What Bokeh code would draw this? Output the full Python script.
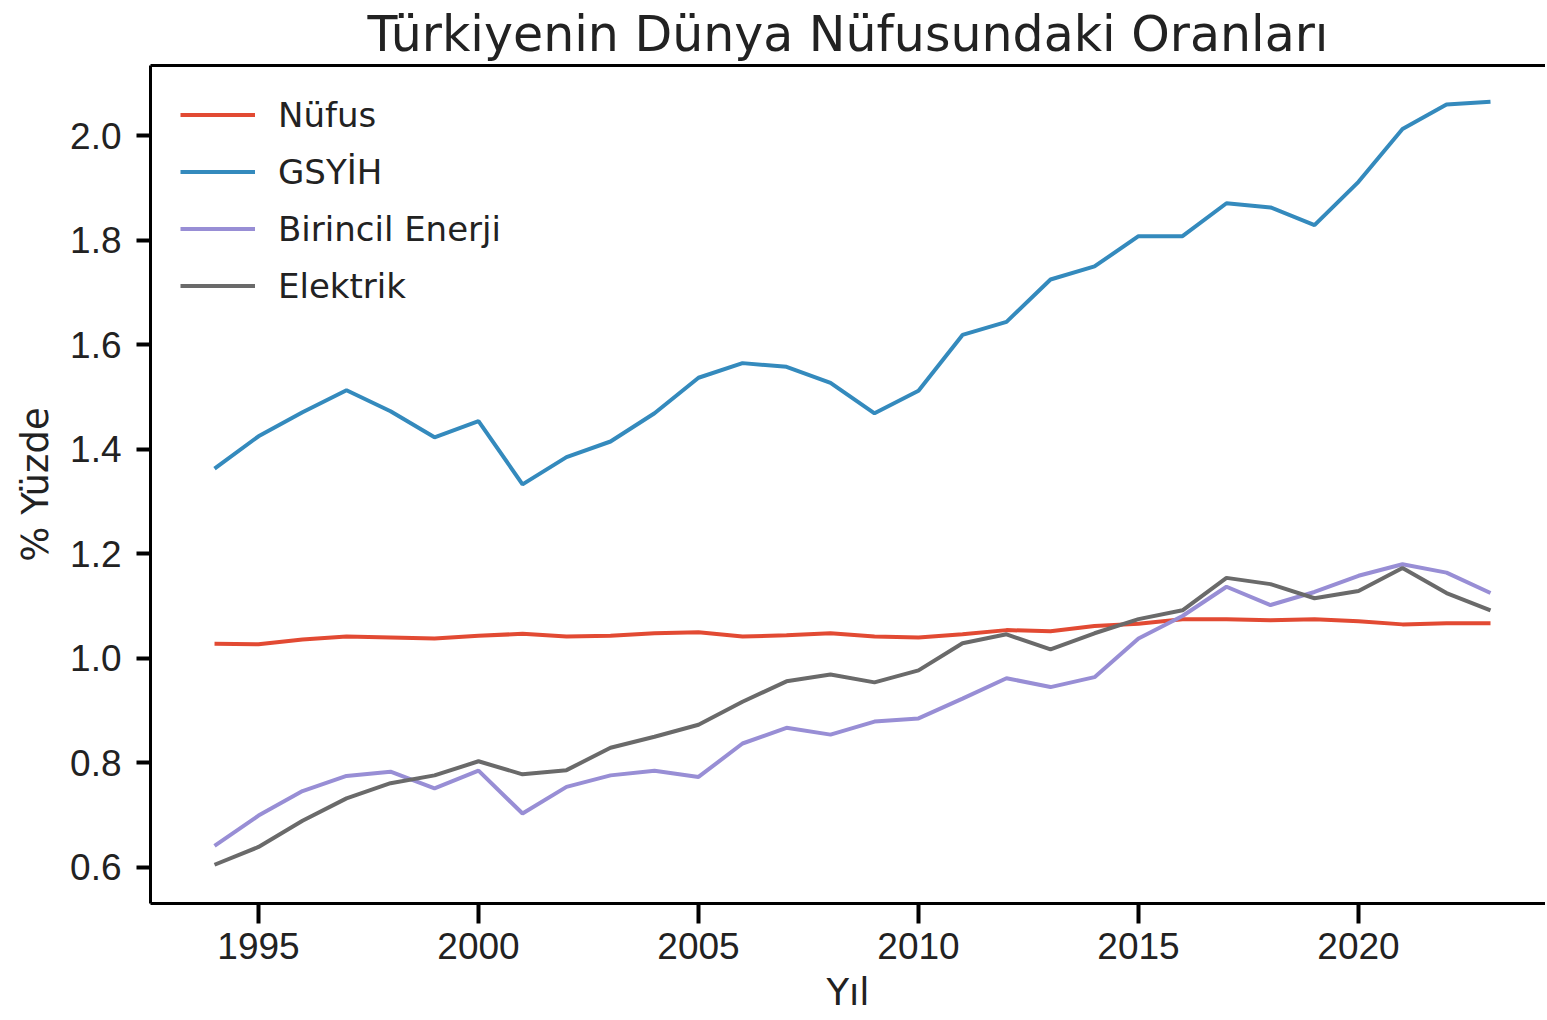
from bokeh.plotting import figure
from bokeh.models import (FixedTicker, NumeralTickFormatter, Legend, LegendItem,
                          LinearAxis, Range1d)
from bokeh.embed import file_html
from bokeh.resources import INLINE

years = list(range(1994, 2024))

nufus = [1.028, 1.027, 1.036, 1.042, 1.040, 1.038, 1.043, 1.047, 1.042, 1.043,
         1.048, 1.050, 1.042, 1.044, 1.048, 1.042, 1.040, 1.046, 1.054, 1.052,
         1.062, 1.066, 1.075, 1.075, 1.073, 1.075, 1.071, 1.065, 1.067, 1.067]

gsyih = [1.363, 1.425, 1.471, 1.513, 1.473, 1.423, 1.454, 1.333, 1.385, 1.415,
         1.469, 1.537, 1.565, 1.558, 1.527, 1.469, 1.512, 1.619, 1.644, 1.725,
         1.750, 1.808, 1.808, 1.871, 1.863, 1.829, 1.912, 2.013, 2.060, 2.065]

enerji = [0.641, 0.699, 0.746, 0.775, 0.783, 0.751, 0.785, 0.703, 0.754, 0.776,
          0.785, 0.773, 0.837, 0.867, 0.854, 0.879, 0.885, 0.923, 0.962, 0.945,
          0.964, 1.038, 1.081, 1.137, 1.102, 1.127, 1.158, 1.180, 1.164, 1.125]

elektrik = [0.605, 0.639, 0.689, 0.732, 0.761, 0.776, 0.803, 0.778, 0.786, 0.829,
            0.850, 0.873, 0.917, 0.956, 0.969, 0.954, 0.977, 1.029, 1.046, 1.017,
            1.048, 1.075, 1.092, 1.154, 1.142, 1.115, 1.129, 1.173, 1.125, 1.092]

series_names = ["Nüfus", "GSYİH", "Birincil Enerji", "Elektrik"]
series_vals = [nufus, gsyih, enerji, elektrik]
colors = ["#E24A33", "#348ABD", "#988ED5", "#6a6a6a"]

x_ticks = [1995, 2000, 2005, 2010, 2015, 2020]
y_ticks = [0.6, 0.8, 1.0, 1.2, 1.4, 1.6, 1.8, 2.0]

TEXT_FONT = "DejaVu Sans"
TICK_FONT = "Liberation Sans"

p = figure(width=1545, height=1016, output_backend="svg", toolbar_location=None,
           x_range=Range1d(1992.545, 2024.25), y_range=Range1d(0.5308, 2.1346),
           title="Türkiyenin Dünya Nüfusundaki Oranları")

p.min_border_left = 150
p.min_border_right = 0
p.min_border_top = 10
p.min_border_bottom = 10

p.title.align = "center"
p.title.text_font = TEXT_FONT
p.title.text_font_size = "49px"
p.title.text_font_style = "normal"
p.title.text_color = "#222222"
p.title.offset = 0
p.title.standoff = 6

p.grid.visible = False
p.outline_line_color = None
p.background_fill_color = "white"
p.border_fill_color = "white"

renderers = []
for name, vals, c in zip(series_names, series_vals, colors):
    r = p.line(years, vals, line_color=c, line_width=4)
    renderers.append((name, r))

legend = Legend(items=[LegendItem(label=n, renderers=[r]) for n, r in renderers],
                location=(30, 597))
legend.border_line_color = None
legend.background_fill_alpha = 0
legend.label_text_font = TEXT_FONT
legend.label_text_font_size = "34px"
legend.label_text_color = "#222222"
legend.glyph_width = 75
legend.glyph_height = 41
legend.label_standoff = 23
legend.spacing = 16
legend.padding = 0
legend.margin = 0
legend.label_height = 41
p.add_layout(legend)

xa = p.xaxis[0]
xa.ticker = FixedTicker(ticks=x_ticks)
xa.axis_label = "Yıl"
ya = p.yaxis[0]
ya.ticker = FixedTicker(ticks=y_ticks)
ya.formatter = NumeralTickFormatter(format="0.0")
ya.axis_label = "% Yüzde"

for ax in (xa, ya):
    ax.axis_line_width = 3
    ax.axis_line_color = "black"
    ax.major_tick_line_width = 4
    ax.major_tick_line_color = "black"
    ax.major_tick_in = 0
    ax.minor_tick_line_color = None
    ax.major_label_text_font = TICK_FONT
    ax.major_label_text_font_size = "37px"
    ax.major_label_text_color = "#222222"
    ax.axis_label_text_font = TEXT_FONT
    ax.axis_label_text_font_size = "37px"
    ax.axis_label_text_font_style = "normal"
    ax.axis_label_text_color = "#222222"

xa.major_tick_out = 20
xa.major_label_standoff = 9
xa.axis_label_standoff = 9
ya.major_tick_out = 14
ya.major_label_standoff = 15
ya.axis_label_standoff = 10

top = LinearAxis(ticker=FixedTicker(ticks=[]), axis_line_width=3,
                 axis_line_color="black", major_label_text_font_size="0px")
top.minor_tick_line_color = None
top.major_tick_line_color = None
p.add_layout(top, "above")

open("out.html", "w").write(file_html(p, INLINE))
